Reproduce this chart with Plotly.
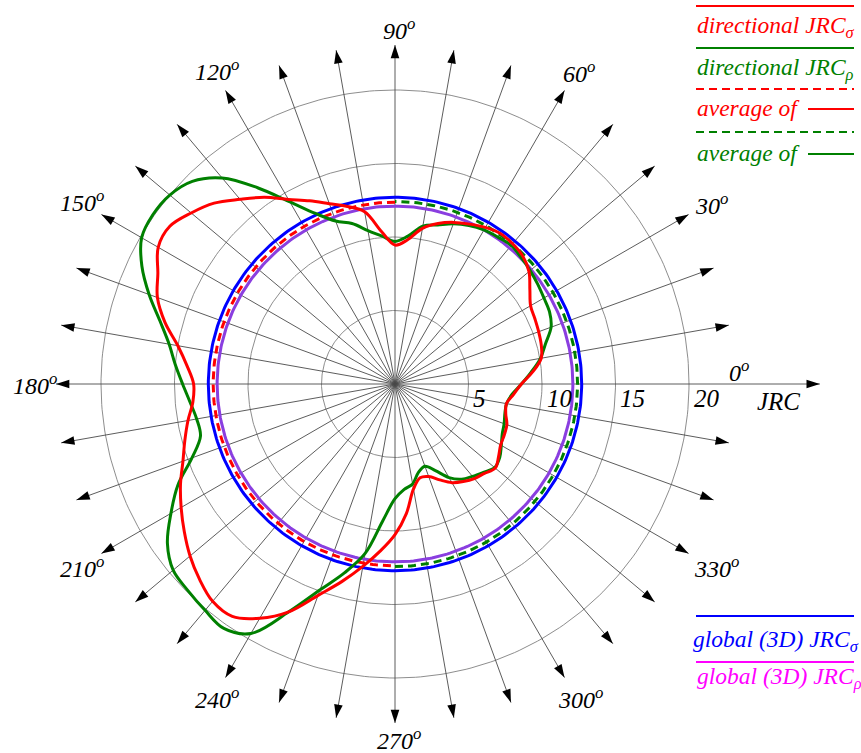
import numpy as np
import plotly.graph_objects as go

# ---------------- data ----------------
angles_deg = list(range(0, 360, 5))
jrc_sigma = [8.6, 9.4, 10.1, 10.3, 10.4, 10.5, 10.65, 11.2, 11.9, 12.3, 12.45, 12.5,
             12.3, 12.0, 11.7, 11.3, 10.75, 9.85, 9.45, 10.4, 11.9, 12.5, 13.05, 13.75,
             14.5, 15.5, 16.4, 17.4, 18.1, 18.7, 18.6, 17.8, 17.2, 16.2, 15.0, 14.2,
             13.7, 13.8, 14.3, 14.8, 15.35, 16.1, 16.8, 17.5, 18.2, 18.8, 19.3, 19.3,
             18.4, 17.1, 15.3, 13.9, 12.6, 11.4, 10.25, 8.85, 7.25, 6.6, 6.7, 7.2,
             7.75, 8.1, 8.4, 8.6, 8.9, 8.6, 8.3, 8.2, 8.1, 7.8, 7.7, 8.1]
jrc_rho = [8.6, 9.3, 10.05, 10.6, 11.3, 11.6, 11.7, 11.85, 12.0, 12.15, 12.3, 12.2,
           12.1, 11.9, 11.6, 11.2, 10.9, 10.1, 9.7, 10.1, 10.6, 11.3, 11.8, 12.8,
           14.3, 16.3, 18.3, 19.5, 20.0, 20.1, 19.9, 19.0, 17.8, 16.55, 15.6, 15.0,
           14.45, 14.0, 13.7, 13.7, 14.7, 16.3, 17.6, 18.9, 19.7, 19.9, 20.1, 20.3,
           19.6, 17.1, 14.9, 13.3, 11.7, 9.3, 7.8, 7.2, 6.9, 6.2, 5.95, 6.5,
           7.35, 7.9, 8.2, 8.5, 8.85, 8.7, 8.35, 8.05, 7.9, 7.74, 7.7, 8.0]
global_jrc_sigma = 12.7
global_jrc_rho = 12.1
avg_jrc_sigma = 12.37
avg_jrc_rho = 12.42
grid_radii = [5, 10, 15, 20]
spoke_angles = list(range(0, 360, 10))
degree_labels = list(range(0, 360, 30))
radial_labels = ["5", "10", "15", "20"]
axis_title = "JRC"

# ---------------- geometry / styling ----------------
W, H = 861, 753
CX, CY = 395, 384          # pole position in pixels
S = 14.7                   # pixels per JRC unit
R_TIP = 23.06              # arrow tip radius
R_AXIS = 28.9              # JRC axis arrow tip radius
FONT = "Liberation Serif"
RED, GREEN, BLUE, PURPLE, MAGENTA = "#ff0000", "#008000", "#0000ff", "#8a3ee0", "#ff00ff"


def pol(r, th):
    t = np.radians(np.asarray(th, dtype=float))
    return np.asarray(r, dtype=float) * np.cos(t), np.asarray(r, dtype=float) * np.sin(t)


def px(x):
    return (x - CX) / S


def py(y):
    return (CY - y) / S


fig = go.Figure()

# grid circles
gx, gy = [], []
th_dense = np.arange(0, 361, 1)
for rr in grid_radii:
    x, y = pol(np.full(th_dense.shape, rr), th_dense)
    gx += list(x) + [None]
    gy += list(y) + [None]
fig.add_trace(go.Scatter(x=gx, y=gy, mode="lines", line=dict(color="#808080", width=0.9),
                         hoverinfo="skip", showlegend=False))

# spokes with arrows
sx, sy, ax_, ay_, ang = [], [], [], [], []
for a in spoke_angles:
    rt = R_AXIS if a == 0 else R_TIP
    x, y = pol([0, rt], [a, a])
    sx += list(x) + [None]
    sy += list(y) + [None]
    ax_.append(x[1])
    ay_.append(y[1])
    ang.append(90 - a)
fig.add_trace(go.Scatter(x=sx, y=sy, mode="lines", line=dict(color="#4a4a4a", width=0.9),
                         hoverinfo="skip", showlegend=False))
fig.add_trace(go.Scatter(x=ax_, y=ay_, mode="markers",
                         marker=dict(symbol="arrow", size=14, angle=ang, color="black",
                                     line=dict(width=0)),
                         hoverinfo="skip", showlegend=False))

# global circles
x, y = pol(np.full(th_dense.shape, global_jrc_sigma), th_dense)
fig.add_trace(go.Scatter(x=x, y=y, mode="lines", line=dict(color=BLUE, width=3),
                         hoverinfo="skip", showlegend=False))
x, y = pol(np.full(th_dense.shape, global_jrc_rho), th_dense)
fig.add_trace(go.Scatter(x=x, y=y, mode="lines", line=dict(color=PURPLE, width=3),
                         hoverinfo="skip", showlegend=False))

# averages (dashed half circles)
th_left = np.arange(90, 271, 1)
x, y = pol(np.full(th_left.shape, avg_jrc_sigma), th_left)
fig.add_trace(go.Scatter(x=x, y=y, mode="lines", line=dict(color=RED, width=3, dash="8px,5px"),
                         hoverinfo="skip", showlegend=False))
th_right = np.arange(-90, 91, 1)
x, y = pol(np.full(th_right.shape, avg_jrc_rho), th_right)
fig.add_trace(go.Scatter(x=x, y=y, mode="lines", line=dict(color=GREEN, width=3, dash="8px,5px"),
                         hoverinfo="skip", showlegend=False))

# directional curves
th_c = angles_deg + [360]
x, y = pol(jrc_rho + [jrc_rho[0]], th_c)
fig.add_trace(go.Scatter(x=x, y=y, mode="lines",
                         line=dict(color=GREEN, width=3, shape="spline", smoothing=1.0),
                         hoverinfo="skip", showlegend=False))
x, y = pol(jrc_sigma + [jrc_sigma[0]], th_c)
fig.add_trace(go.Scatter(x=x, y=y, mode="lines",
                         line=dict(color=RED, width=3, shape="spline", smoothing=1.0),
                         hoverinfo="skip", showlegend=False))

annotations = []
# degree labels
for d in degree_labels:
    t = np.radians(d)
    if d == 0:
        lx, ly = px(735), py(371)
    else:
        w = len(str(d)) * 12.5
        rp = 345 + abs(np.cos(t)) * w / 2 + abs(np.sin(t)) * 10
        lx, ly = pol(rp / S, d)
    annotations.append(dict(x=float(lx), y=float(ly), xref="x", yref="y", showarrow=False,
                            text=f"{d}<sup>o</sup>", xanchor="center", yanchor="middle", xshift=4,
                            font=dict(family=FONT, size=24, color="black", style="italic")))

# radial labels
for rr, lab in zip(grid_radii, radial_labels):
    annotations.append(dict(x=rr + 0.2, y=py(398), xref="x", yref="y", showarrow=False,
                            text=lab, xanchor="left", yanchor="middle",
                            font=dict(family=FONT, size=25, color="black", style="italic")))
annotations.append(dict(x=px(778), y=py(401), xref="x", yref="y", showarrow=False,
                        text=axis_title, xanchor="center", yanchor="middle",
                        font=dict(family=FONT, size=25, color="black", style="italic")))

# legend texts
legend_items = [
    ("directional JRC<sub>σ</sub>", RED, 695, 27),
    ("directional JRC<sub>ρ</sub>", GREEN, 695, 69),
    ("average of", RED, 695, 108),
    ("average of", GREEN, 695, 153),
    ("global (3D) JRC<sub>σ</sub>", BLUE, 691, 641),
    ("global (3D) JRC<sub>ρ</sub>", MAGENTA, 695, 678),
]
for txt, col, lx, ly in legend_items:
    annotations.append(dict(x=px(lx), y=py(ly), xref="x", yref="y", showarrow=False,
                            text=txt, xanchor="left", yanchor="middle",
                            font=dict(family=FONT, size=23.5, color=col, style="italic")))

shapes = []
legend_lines = [
    (696, 854, 6, RED, "solid"),
    (696, 854, 48, GREEN, "solid"),
    (696, 854, 89, RED, "8px,5px"),
    (808, 854, 109, RED, "solid"),
    (696, 854, 132, GREEN, "8px,5px"),
    (808, 854, 154, GREEN, "solid"),
    (696, 854, 616, BLUE, "solid"),
    (696, 854, 662, MAGENTA, "solid"),
]
for x0, x1, yy, col, dash in legend_lines:
    shapes.append(dict(type="line", xref="x", yref="y", x0=px(x0), x1=px(x1), y0=py(yy), y1=py(yy),
                       line=dict(color=col, width=2, dash=dash)))

fig.update_layout(
    width=W, height=H,
    margin=dict(l=0, r=0, t=0, b=0),
    paper_bgcolor="white", plot_bgcolor="white",
    xaxis=dict(range=[px(0), px(W)], visible=False, fixedrange=True),
    yaxis=dict(range=[py(H), py(0)], visible=False, fixedrange=True),
    annotations=annotations,
    shapes=shapes,
    showlegend=False,
)

fig.write_html("out.html",
               config={"displayModeBar": False, "staticPlot": True},
               post_script="document.body.style.margin='0px';document.body.style.overflow='hidden';")
